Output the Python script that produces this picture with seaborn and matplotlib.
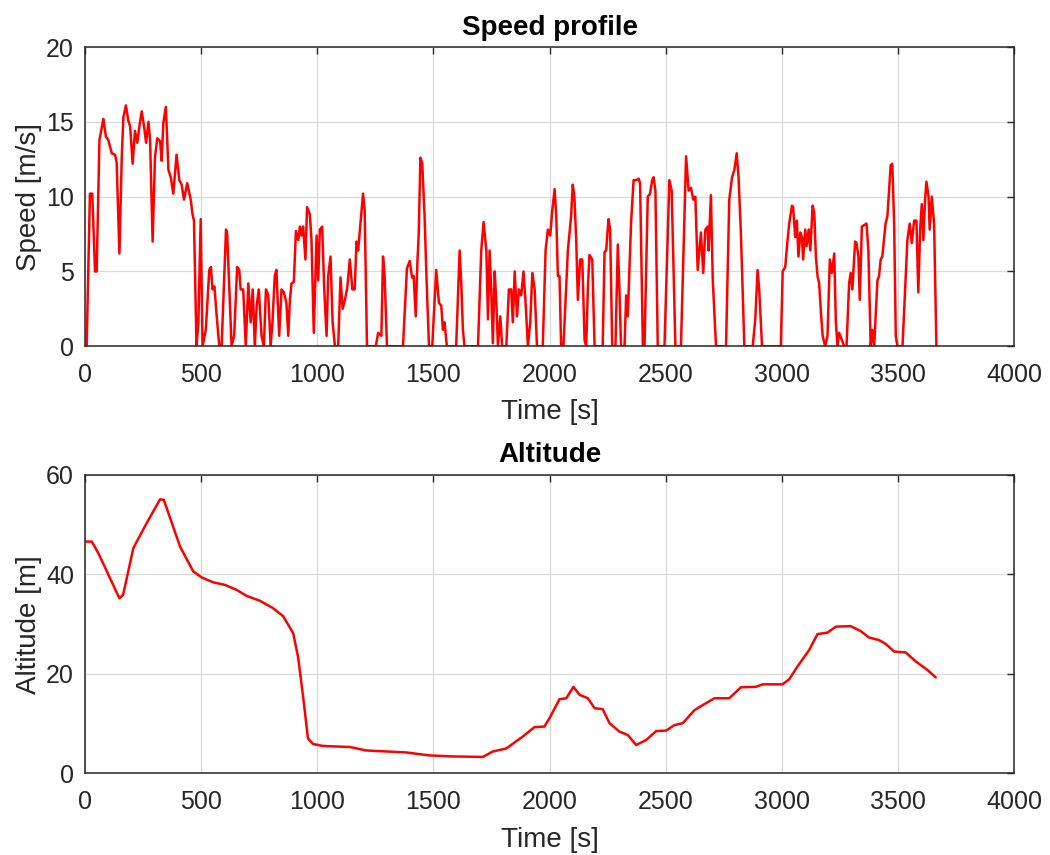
import matplotlib
matplotlib.use("Agg")
import matplotlib.pyplot as plt
import seaborn as sns
import pandas as pd

# ---------------- data ----------------
speed_time = [0, 7, 21, 31, 43, 50, 62, 67, 79, 90, 100, 115, 129, 136, 148, 158, 165, 176, 186, 194,
              205, 215, 225, 234, 244, 254, 263, 273, 280, 291, 301, 311, 323, 330, 337, 348, 359, 369,
              380, 394, 406, 416, 426, 440, 455, 463, 469, 480, 488, 498, 506, 520, 535, 542, 549, 557,
              567, 578, 588, 607, 612, 631, 642, 655, 664, 670, 681, 692, 703, 713, 722, 731, 739, 748,
              760, 770, 779, 789, 799, 807, 817, 824, 836,
              846, 856, 867, 875, 882, 889, 899, 908, 918, 925, 932, 939, 949, 956, 968, 975, 985, 997,
              1004, 1011, 1021, 1030, 1040, 1047, 1057, 1066, 1076, 1090, 1100, 1109, 1119, 1129, 1140,
              1151, 1161, 1169, 1176, 1186, 1197, 1204, 1214, 1252, 1262, 1276, 1283, 1290, 1300, 1369,
              1386, 1398, 1408, 1415, 1424, 1431, 1437, 1444, 1452, 1462, 1470, 1481, 1495, 1512, 1524,
              1534, 1541, 1548, 1558, 1598, 1613, 1620, 1627, 1634,
              1692, 1706, 1716, 1728, 1735, 1742, 1749, 1756, 1764, 1771, 1778, 1788, 1796, 1814, 1825,
              1835, 1842, 1850, 1860, 1868, 1878, 1888, 1897, 1907, 1917, 1926, 1936, 1946, 1971, 1983,
              1993, 2003, 2012, 2022, 2029, 2036, 2043, 2050, 2060, 2079, 2093, 2100, 2107, 2115, 2122,
              2132, 2141, 2151, 2158, 2165, 2172, 2184, 2194, 2229, 2237, 2244, 2254, 2261, 2270, 2284,
              2294, 2301, 2308, 2323, 2330, 2337, 2351, 2362, 2373, 2384, 2390, 2402, 2409, 2423, 2433,
              2442, 2448, 2456,
              2466, 2495, 2516, 2526, 2542, 2566, 2588, 2599, 2609, 2619, 2628, 2638, 2652, 2662, 2671,
              2681, 2685, 2695, 2703, 2717, 2760, 2774, 2786, 2796, 2806, 2814, 2824, 2839, 2875, 2886,
              2896, 2903, 2915, 2996, 3004, 3015, 3025, 3032, 3044, 3049, 3058, 3065, 3072, 3080, 3087,
              3092, 3101, 3107, 3116, 3123, 3133, 3140, 3147, 3154, 3161, 3169, 3176, 3187, 3197, 3207,
              3216, 3226, 3233, 3240, 3247, 3259,
              3269, 3279, 3290, 3297, 3304, 3316, 3322, 3330, 3336, 3345, 3355, 3365, 3373, 3383, 3390,
              3398, 3412, 3419, 3426, 3433, 3447, 3455, 3462, 3469, 3476, 3484, 3491, 3498, 3520, 3531,
              3541, 3551, 3560, 3570, 3580, 3588, 3596, 3603, 3610, 3617, 3623, 3632, 3637, 3646, 3656,
              3666]
speed_value = [0, 0, 10.2, 10.2, 5.0, 5.0, 13.8, 14.2, 15.2, 14.0, 13.8, 12.9, 12.8, 12.3, 6.2, 12.6, 15.3,
               16.1, 15.1, 14.7, 12.2, 14.4, 13.6, 14.7, 15.7, 14.7, 13.6, 15.0, 13.8, 7.0, 12.6, 13.9,
               13.7, 12.4, 14.9, 16.0, 11.8, 11.3, 10.2, 12.8, 11.1, 10.8, 9.8, 10.9, 9.8, 8.8, 8.4, 0,
               1.6, 8.5, 0, 1.1, 5.1, 5.3, 3.8, 4.0, 2.0, 0, 0, 7.8, 7.5, 0, 0.7, 5.3, 5.1, 3.8, 3.8, 0,
               4.2, 1.6, 3.8, 0, 2.7, 3.8, 0.7, 0, 3.8, 3.4, 0, 1.6, 4.7, 5.1, 0.7,
               3.8, 3.6, 2.9, 0.7, 3.1, 4.2, 4.3, 7.7, 7.1, 8.0, 7.4, 8.0, 5.8, 9.3, 8.8, 7.1, 0.9, 7.4,
               4.4, 7.8, 8.0, 3.8, 0.7, 4.7, 6.0, 1.6, 0, 0, 4.6, 2.5, 3.1, 3.9, 5.8, 3.8, 3.8, 7.0, 6.4,
               8.2, 10.2, 9.1, 0, 0, 0.9, 0.7, 6.0, 4.7, 0, 0, 5.2, 5.7, 4.6, 4.7, 2.0, 5.6, 7.6, 12.6,
               12.2, 8.7, 4.7, 0, 0, 5.1, 2.9, 2.7, 1.1, 1.6, 0, 0, 6.4, 4.2, 1.1, 0,
               0, 6.4, 8.3, 6.4, 1.8, 6.4, 3.8, 0.2, 5.0, 2.9, 0, 2.0, 0, 0, 3.8, 3.8, 1.6, 5.0, 2.0,
               3.8, 3.4, 5.0, 2.9, 0, 1.6, 4.9, 3.8, 0, 0, 6.4, 7.8, 7.4, 9.1, 10.5, 8.7, 4.7, 4.7, 0,
               0, 6.4, 8.7, 10.8, 10.0, 7.1, 3.1, 5.8, 5.8, 0.4, 0, 3.8, 6.1, 5.8, 0, 0, 6.3, 6.4, 8.5,
               7.8, 0, 0, 6.8, 3.8, 0, 0, 3.4, 2.0, 8.2, 11.1, 11.1, 11.2, 10.9, 0, 0, 10.0, 10.2, 11.1,
               11.3, 10.4,
               0, 0, 11.1, 10.4, 0, 0, 12.7, 10.4, 10.6, 9.8, 10.0, 5.1, 7.6, 4.9, 7.8, 8.0, 6.4, 10.1,
               4.4, 0, 0, 9.8, 11.3, 11.8, 12.9, 11.3, 7.6, 0, 0, 1.8, 5.1, 3.8, 0, 0, 5.0, 5.3, 7.1,
               8.2, 9.4, 9.3, 7.3, 8.4, 6.0, 7.6, 7.3, 5.8, 7.8, 6.7, 7.8, 6.4, 9.4, 8.9, 6.0, 4.7, 4.2,
               2.2, 0.7, 0, 0.7, 5.8, 4.9, 6.2, 1.6, 0, 0.9, 0.4,
               0, 0, 4.2, 4.9, 3.8, 7.0, 6.9, 6.0, 3.1, 8.0, 8.1, 8.2, 6.4, 0, 1.1, 0, 4.4, 4.7, 5.8,
               6.0, 8.2, 8.7, 10.4, 12.1, 12.2, 8.2, 0.7, 0, 0, 3.8, 7.1, 8.2, 6.9, 8.4, 8.4, 3.6, 7.8,
               9.5, 7.1, 9.8, 11.0, 10.0, 7.8, 10.0, 8.2, 0]

alt_time = [0, 29, 57, 148, 164, 208, 265, 323, 339, 409, 466, 502, 552, 602, 652, 695, 753, 810,
            853, 896, 917, 939, 960, 982, 1025, 1140, 1211, 1297, 1384, 1484, 1584, 1713, 1756, 1814,
            1885, 1935, 1978, 2000, 2043, 2072, 2103, 2129, 2165, 2194, 2229, 2258, 2301, 2337, 2373,
            2416, 2459, 2502, 2538, 2574, 2624, 2659, 2710, 2774, 2824, 2889, 2918, 3003, 3032, 3068,
            3118, 3154, 3197, 3233, 3297, 3340, 3376, 3419, 3448, 3484, 3534, 3577, 3627, 3663]
alt_value = [46.6, 46.6, 44.3, 35.2, 35.9, 45.3, 50.3, 55.1, 55.0, 45.6, 40.6, 39.4, 38.4, 37.9, 36.9,
             35.7, 34.7, 33.2, 31.6, 28.2, 23.5, 15.4, 7.0, 5.9, 5.5, 5.3, 4.6, 4.4, 4.2, 3.6, 3.4,
             3.3, 4.4, 5.0, 7.4, 9.3, 9.4, 11.1, 14.9, 15.1, 17.4, 15.8, 15.1, 13.1, 12.9, 10.1, 8.4,
             7.7, 5.7, 6.7, 8.5, 8.6, 9.7, 10.1, 12.7, 13.7, 15.1, 15.1, 17.3, 17.4, 17.9, 17.9, 18.9,
             21.5, 24.8, 28.0, 28.3, 29.5, 29.6, 28.6, 27.3, 26.8, 26.0, 24.5, 24.3, 22.5, 20.8, 19.3]

x_ticks = [0, 500, 1000, 1500, 2000, 2500, 3000, 3500, 4000]
speed_ticks = [0, 5, 10, 15, 20]
alt_ticks = [0, 20, 40, 60]

speed_df = pd.DataFrame({"Time": speed_time, "Speed": speed_value})
alt_df = pd.DataFrame({"Time": alt_time, "Altitude": alt_value})

# ---------------- style ----------------
sns.set_style("white")
plt.rcParams["font.family"] = ["Liberation Sans", "DejaVu Sans"]

TXT = "#262626"
fig = plt.figure(figsize=(10.5, 8.55), dpi=100)
ax1 = fig.add_axes([0.081, 0.595, 0.8847, 0.350])
ax2 = fig.add_axes([0.081, 0.0955, 0.8847, 0.349])

sns.lineplot(data=speed_df, x="Time", y="Speed", ax=ax1, color="#ff0000", linewidth=1.8,
             estimator=None, sort=False)
sns.lineplot(data=alt_df, x="Time", y="Altitude", ax=ax2, color="#ff0000", linewidth=1.8,
             estimator=None, sort=False)

def style(ax, yticks, ylabel, title):
    ax.set_xlim(0, 4000)
    ax.set_ylim(yticks[0], yticks[-1])
    ax.set_xticks(x_ticks)
    ax.set_yticks(yticks)
    ax.grid(True, color="#d9d9d9", linewidth=0.9)
    ax.set_axisbelow(True)
    for s in ax.spines.values():
        s.set_color(TXT)
        s.set_linewidth(1.1)
        s.set_visible(True)
    ax.tick_params(direction="in", top=True, right=True, length=5, width=1.0,
                   colors=TXT, labelsize=18)
    ax.tick_params(axis="x", pad=12)
    ax.tick_params(axis="y", pad=8)
    ax.set_xlabel("Time [s]", fontsize=20, color=TXT, labelpad=9)
    ax.set_ylabel(ylabel, fontsize=20, color=TXT, labelpad=3)
    ax.set_title(title, fontsize=20, fontweight="bold", color="black", pad=9)

style(ax1, speed_ticks, "Speed [m/s]", "Speed profile")
style(ax2, alt_ticks, "Altitude [m]", "Altitude")

fig.savefig("out.png", dpi=100)
